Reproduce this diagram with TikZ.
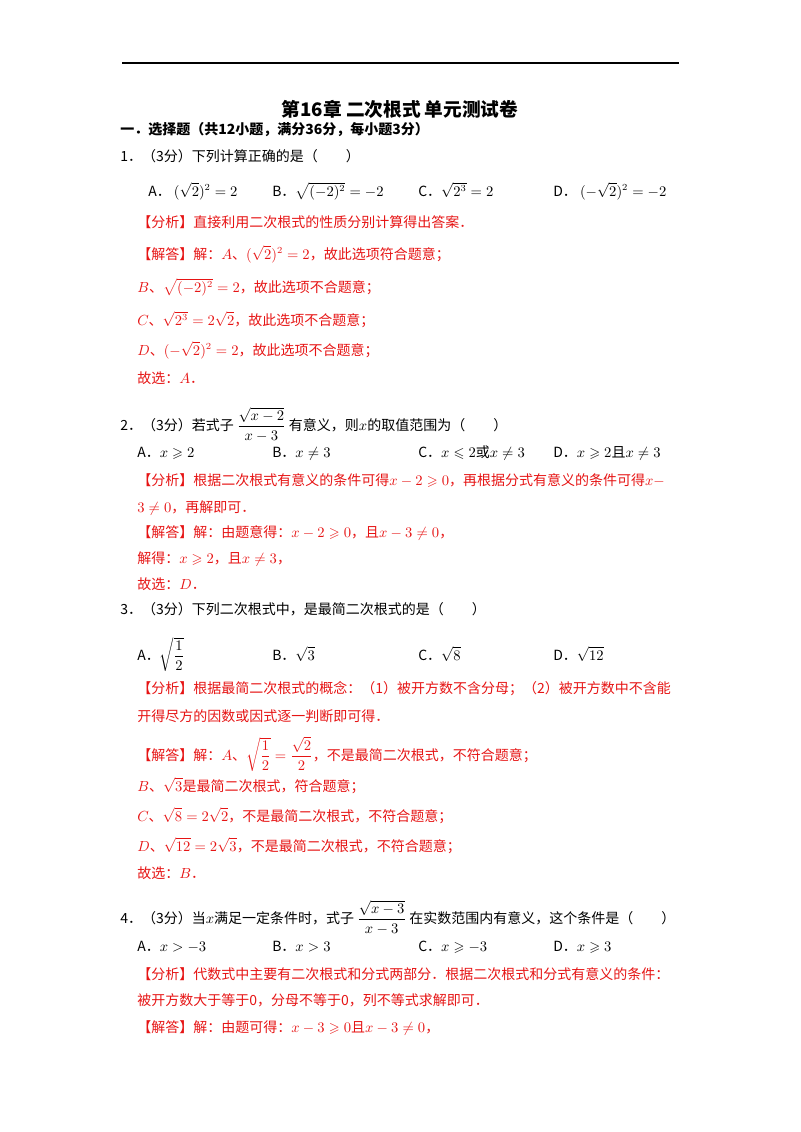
\documentclass[tikz,border=0pt]{standalone}
\usepackage{fontspec}
\usepackage{amsmath,amssymb}
\setmainfont{Noto Sans CJK SC}
\definecolor{ans}{RGB}{230,20,20}
\begin{document}
\begin{tikzpicture}[x=0.75pt,y=-0.75pt,
 t/.style={anchor=base west,inner sep=0pt,font=\fontsize{10.5}{12}\selectfont},
 r/.style={t,text=ans},
 h/.style={anchor=base,inner sep=0pt,font=\fontsize{14}{16}\selectfont\bfseries}]
\useasboundingbox (0,0) rectangle (800,1132);
\draw[line width=0.8pt] (122,63) coordinate (l1) -- (679,63) coordinate (l2);
\node[h] (title) at (400,116) {第16章\ 二次根式\ 单元测试卷};
\node[t,font=\fontsize{10.5}{12}\selectfont\bfseries] (s1) at (120,134) {一．选择题（共12小题，满分36分，每小题3分）};
\node[t] (q1) at (120,161) {1．（3分）下列计算正确的是（\quad\quad）};
\node[t] (q1a) at (148,196) {A．\ $(\sqrt{2})^2=2$};
\node[t] (q1b) at (272,196) {B．$\sqrt{(-2)^2}=-2$};
\node[t] (q1c) at (418,196) {C．$\sqrt{2^3}=2$};
\node[t] (q1d) at (553,196) {D．\ $(-\sqrt{2})^2=-2$};
\node[r] (a1) at (137,227) {【分析】直接利用二次根式的性质分别计算得出答案．};
\node[r] (a2) at (137,259) {【解答】解：$A$、$(\sqrt{2})^2=2$，故此选项符合题意；};
\node[r] (a3) at (137,292) {$B$、$\sqrt{(-2)^2}=2$，故此选项不合题意；};
\node[r] (a4) at (137,325) {$C$、$\sqrt{2^3}=2\sqrt{2}$，故此选项不合题意；};
\node[r] (a5) at (137,355) {$D$、$(-\sqrt{2})^2=2$，故此选项不合题意；};
\node[r] (a6) at (137,383) {故选：$A$．};
\node[t] (q2) at (120,430) {2．（3分）若式子 $\dfrac{\sqrt{x-2}}{x-3}$ 有意义，则$x$的取值范围为（\quad\quad）};
\node[t] (q2a) at (137,457) {A．$x\geqslant2$};
\node[t] (q2b) at (272,457) {B．$x\neq3$};
\node[t] (q2c) at (418,457) {C．$x\leqslant2$或$x\neq3$};
\node[t] (q2d) at (553,457) {D．$x\geqslant2$且$x\neq3$};
\node[r] (b1) at (137,485) {【分析】根据二次根式有意义的条件可得$x-2\geqslant0$，再根据分式有意义的条件可得$x-$};
\node[r] (b2) at (137,512) {$3\neq0$，再解即可．};
\node[r] (b3) at (137,537) {【解答】解：由题意得：$x-2\geqslant0$，且$x-3\neq0$，};
\node[r] (b4) at (137,563) {解得：$x\geqslant2$，且$x\neq3$，};
\node[r] (b5) at (137,589) {故选：$D$．};
\node[t] (q3) at (120,614) {3．（3分）下列二次根式中，是最简二次根式的是（\quad\quad）};
\node[t] (q3a) at (137,660) {A．$\sqrt{\dfrac12}$};
\node[t] (q3b) at (272,660) {B．$\sqrt{3}$};
\node[t] (q3c) at (418,660) {C．$\sqrt{8}$};
\node[t] (q3d) at (553,660) {D．$\sqrt{12}$};
\node[r] (c1) at (137,693) {【分析】根据最简二次根式的概念：（1）被开方数不含分母；（2）被开方数中不含能};
\node[r] (c2) at (137,721) {开得尽方的因数或因式逐一判断即可得．};
\node[r] (c3) at (137,760) {【解答】解：$A$、$\sqrt{\dfrac12}=\dfrac{\sqrt2}{2}$，不是最简二次根式，不符合题意；};
\node[r] (c4) at (137,791) {$B$、$\sqrt3$是最简二次根式，符合题意；};
\node[r] (c5) at (137,821) {$C$、$\sqrt8=2\sqrt2$，不是最简二次根式，不符合题意；};
\node[r] (c6) at (137,851) {$D$、$\sqrt{12}=2\sqrt3$，不是最简二次根式，不符合题意；};
\node[r] (c7) at (137,878) {故选：$B$．};
\node[t] (q4) at (120,923) {4．（3分）当$x$满足一定条件时，式子 $\dfrac{\sqrt{x-3}}{x-3}$ 在实数范围内有意义，这个条件是（\quad\quad）};
\node[t] (q4a) at (137,951) {A．$x>-3$};
\node[t] (q4b) at (272,951) {B．$x>3$};
\node[t] (q4c) at (418,951) {C．$x\geqslant-3$};
\node[t] (q4d) at (553,951) {D．$x\geqslant3$};
\node[r] (d1) at (137,979) {【分析】代数式中主要有二次根式和分式两部分．根据二次根式和分式有意义的条件：};
\node[r] (d2) at (137,1005) {被开方数大于等于0，分母不等于0，列不等式求解即可．};
\node[r] (d3) at (137,1032) {【解答】解：由题可得：$x-3\geqslant0$且$x-3\neq0$，};
\end{tikzpicture}
\end{document}
